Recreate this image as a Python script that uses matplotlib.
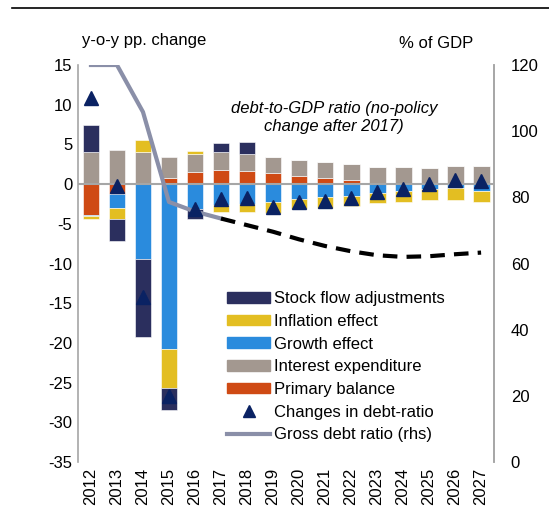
import numpy as np
import matplotlib.pyplot as plt
from matplotlib.patches import Patch
from matplotlib.lines import Line2D

plt.rcParams['font.family'] = ['Liberation Sans', 'DejaVu Sans']
plt.rcParams['font.size'] = 12
plt.rcParams['axes.unicode_minus'] = False

# Data
years = ['2012', '2013', '2014', '2015', '2016', '2017', '2018', '2019',
         '2020', '2021', '2022', '2023', '2024', '2025', '2026', '2027']
primary = [-3.9, -1.3, 0.0, 0.8, 1.5, 1.8, 1.7, 1.35, 1.05, 0.75, 0.55, 0.2, 0.1, 0.05, 0.05, 0.0]
interest = [4.1, 4.3, 4.0, 2.6, 2.3, 2.2, 2.1, 2.1, 2.0, 2.0, 2.0, 2.0, 2.0, 2.0, 2.2, 2.3]
growth = [-0.15, -1.7, -9.45, -20.8, -3.15, -2.6, -2.5, -2.3, -1.9, -1.6, -1.5, -1.1, -0.85, -0.65, -0.55, -0.85]
inflation = [-0.4, -1.4, 1.5, -4.9, 0.4, -0.85, -1.05, -1.4, -1.26, -1.4, -1.26, -1.3, -1.35, -1.35, -1.4, -1.35]
stock_flow = [3.4, -2.8, -9.85, -2.7, -1.26, 1.2, 1.55, 0, 0, 0, 0, 0, 0, 0, 0, 0]
debt_change = [10.9, -0.3, -14.2, -26.7, -3.1, -1.9, -1.7, -2.9, -2.2, -2.1, -1.7, -1.0, -0.6, 0.0, 0.5, 0.45]
gross_debt = [120, 120, 105.8, 78.6, 75.7, 73.6]
gross_debt_nopolicy = [73.6, 71.6, 69.6, 67.3, 65.3, 63.7, 62.5, 62.0, 62.2, 62.8, 63.3]

series = [
    ('Primary balance', primary, '#CF4A14'),
    ('Interest expenditure', interest, '#A39890'),
    ('Growth effect', growth, '#2A8BDD'),
    ('Inflation effect', inflation, '#E3BE22'),
    ('Stock flow adjustments', stock_flow, '#2B2F5E'),
]

fig = plt.figure(figsize=(5.49, 5.2), dpi=100)
ax = fig.add_axes([0.142, 0.1115, 0.758, 0.7635])
x = np.arange(len(years))

# stacked bars: positives up from zero, negatives down from zero
pos_bottom = np.zeros(len(years))
neg_bottom = np.zeros(len(years))
for name, vals, col in series:
    v = np.array(vals, dtype=float)
    bottom = np.where(v >= 0, pos_bottom, neg_bottom)
    ax.bar(x, v, 0.65, bottom=bottom, color=col, edgecolor='white', linewidth=0.4, zorder=2)
    pos_bottom += np.where(v > 0, v, 0)
    neg_bottom += np.where(v < 0, v, 0)

ax.axhline(0, color='#A6A6A6', lw=1.5, zorder=3)

ax.set_xlim(-0.5, len(years) - 0.5)
ax.set_ylim(-35, 15)
ax.set_yticks(range(-35, 16, 5))
ax.set_xticks(x)
ax.set_xticklabels(years, rotation=90)
ax.tick_params(length=0, pad=4)
for s in ['top', 'bottom']:
    ax.spines[s].set_visible(False)
for s in ['left', 'right']:
    ax.spines[s].set_color('#A6A6A6')
    ax.spines[s].set_linewidth(1.2)

# right axis: gross debt ratio
ax2 = ax.twinx()
ax2.set_ylim(0, 120)
ax2.set_yticks(range(0, 121, 20))
ax2.tick_params(length=0, pad=12)
for s in ['top', 'bottom', 'left']:
    ax2.spines[s].set_visible(False)
ax2.spines['right'].set_color('#A6A6A6')
ax2.spines['right'].set_linewidth(1.2)

ax2.plot(x[:len(gross_debt)], gross_debt, color='#8A8FA8', lw=3, zorder=3)
ax2.plot(x[5:5 + len(gross_debt_nopolicy)], gross_debt_nopolicy, color='black', lw=3,
         linestyle=(0, (3.5, 2.2)), zorder=3)

# triangles drawn on top of everything, in left-axis units
ax2.plot(x, debt_change, linestyle='none', marker='^', markersize=10,
         color='#0A2263', transform=ax.transData, zorder=5)

ax.text(9.35, 8.4, 'debt-to-GDP ratio (no-policy\nchange after 2017)', style='italic',
        ha='center', va='center', fontsize=12)

fig.text(0.262, 0.923, 'y-o-y pp. change', ha='center', va='center', fontsize=12)
fig.text(0.795, 0.917, '% of GDP', ha='center', va='center', fontsize=12)
fig.add_artist(Line2D([0.022, 1.0], [0.985, 0.985], color='black', lw=1.2))

handles = [Patch(color=col) for name, vals, col in series[::-1]]
labels = [name for name, vals, col in series[::-1]]
handles += [Line2D([], [], linestyle='none', marker='^', markersize=8, color='#0A2263'),
            Line2D([], [], color='#8A8FA8', lw=3)]
labels += ['Changes in debt-ratio', 'Gross debt ratio (rhs)']
ax2.legend(handles, labels, loc='upper left', bbox_to_anchor=(0.358, 0.43),
           frameon=False, handlelength=2.6, handleheight=0.6, handletextpad=0.25,
           labelspacing=0.46, borderpad=0, borderaxespad=0, fontsize=12)

fig.savefig('out.png', dpi=100)
